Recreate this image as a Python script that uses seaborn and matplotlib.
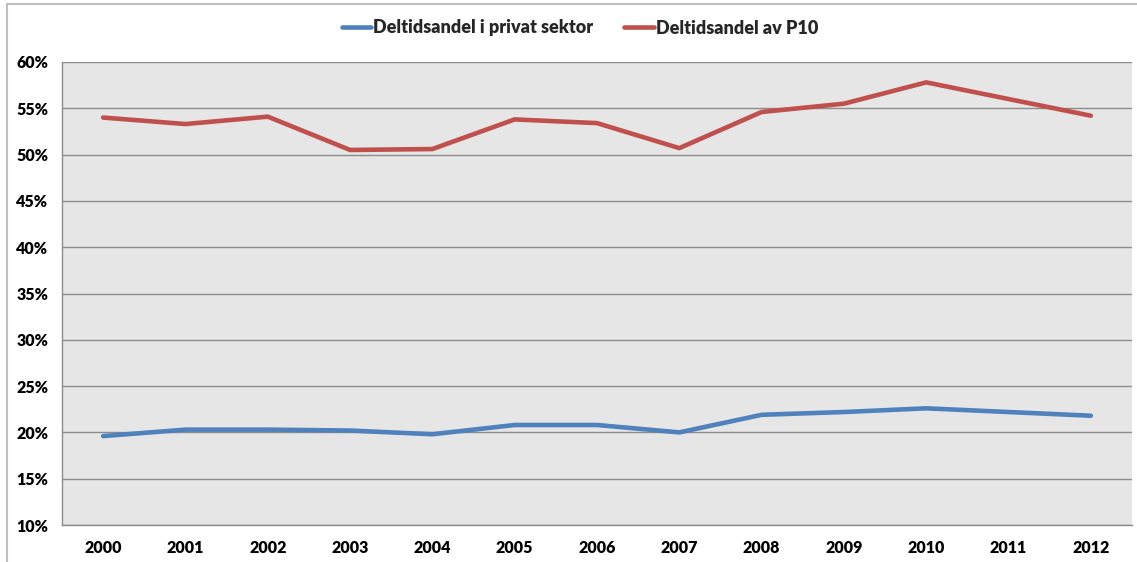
import matplotlib
matplotlib.use("Agg")
import matplotlib.pyplot as plt
import seaborn as sns
import pandas as pd
import numpy as np
from matplotlib.ticker import FixedLocator, PercentFormatter
from matplotlib.lines import Line2D

years = ["2000", "2001", "2002", "2003", "2004", "2005", "2006",
         "2007", "2008", "2009", "2010", "2011", "2012"]
privat = [19.6, 20.3, 20.3, 20.2, 19.8, 20.8, 20.8, 20.0, 21.9, 22.2, 22.6, 22.2, 21.8]
p10 = [54.0, 53.3, 54.1, 50.5, 50.6, 53.8, 53.4, 50.7, 54.6, 55.5, 57.8, 56.0, 54.2]
series_names = ["Deltidsandel i privat sektor", "Deltidsandel av P10"]
colors = ["#4F81BD", "#C0504D"]
yticks = [10, 15, 20, 25, 30, 35, 40, 45, 50, 55, 60]

df = pd.DataFrame({
    "year": years * 2,
    "value": privat + p10,
    "series": [series_names[0]] * len(years) + [series_names[1]] * len(years),
})

sns.set_theme(style="white")
plt.rcParams['font.family'] = ['Lato', 'DejaVu Sans']

fig = plt.figure(figsize=(11.37, 5.62), dpi=100)
ax = fig.add_axes([62/1137, 1 - 525/562, (1132 - 62)/1137, (525 - 62)/562])
ax.set_facecolor("#E6E6E6")

sns.lineplot(data=df, x="year", y="value", hue="series", palette=colors,
             linewidth=3.3, ax=ax, legend=False, sort=False)
for l in ax.get_lines():
    l.set_solid_capstyle("round")
    l.set_solid_joinstyle("round")

ax.set_xlim(-0.5, len(years) - 0.5)
ax.set_ylim(10, 60)
ax.yaxis.set_major_locator(FixedLocator(yticks))
ax.yaxis.set_major_formatter(PercentFormatter(decimals=0))
ax.grid(axis="y", color="#8C8C8C", linewidth=1)
ax.set_axisbelow(True)

ax.set_xticks(range(len(years)))
ax.set_xticklabels(years)
ax.set_xticks(np.arange(-0.5, len(years), 1.0), minor=True)
ax.tick_params(axis="x", which="major", length=0, pad=11, labelsize=11.5)
ax.tick_params(axis="x", which="minor", length=5, color="#8C8C8C", width=1, direction="out")
ax.tick_params(axis="y", which="major", length=5, color="#8C8C8C", width=1, direction="out",
               labelsize=11.5, pad=5)
for lab in ax.get_xticklabels() + ax.get_yticklabels():
    lab.set_fontweight("heavy")
    lab.set_color("black")

for s in ["top", "right"]:
    ax.spines[s].set_visible(False)
for s in ["left", "bottom"]:
    ax.spines[s].set_color("#8C8C8C")
    ax.spines[s].set_linewidth(1)
ax.set_xlabel("")
ax.set_ylabel("")

handles = [Line2D([0], [0], color=c, linewidth=3.3, solid_capstyle="round") for c in colors]
leg = fig.legend(handles, series_names, loc="center", bbox_to_anchor=(0.510, 1 - 28/562),
                 ncol=2, frameon=False, handlelength=1.65, handletextpad=0.1, columnspacing=1.7,
                 fontsize=13)
for t in leg.get_texts():
    t.set_fontweight("heavy")

# chart frame
fig.add_artist(Line2D([7/1137, 1.0], [1 - 4/562, 1 - 4/562], color="#BFBFBF", linewidth=1.5))
fig.add_artist(Line2D([7/1137, 7/1137], [0, 1 - 4/562], color="#BFBFBF", linewidth=1.5))

fig.savefig("out.png", dpi=100)
